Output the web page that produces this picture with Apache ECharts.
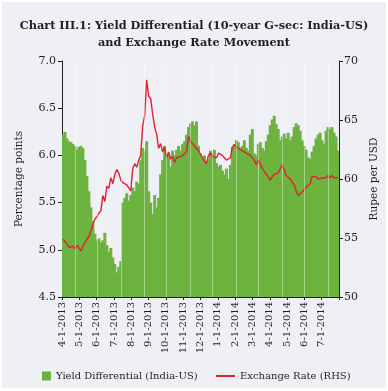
<!DOCTYPE html>
<html>
<head>
<meta charset="utf-8">
<script src="https://cdn.jsdelivr.net/npm/echarts@6/dist/echarts.min.js"></script>
<style>
html,body{margin:0;padding:0;background:#ffffff;}
#c{width:388px;height:391px;}
</style>
</head>
<body>
<div id="c"></div>
<script>
// Month tick labels (last slot is the axis end, unlabeled)
const monthLabels = ['4-1-2013','5-1-2013','6-1-2013','7-1-2013','8-1-2013','9-1-2013','10-1-2013','11-1-2013','12-1-2013','1-1-2014','2-1-2014','3-1-2014','4-1-2014','5-1-2014','6-1-2014','7-1-2014',''];

// Observation dates: Mondays and Thursdays from 1 Apr 2013 (139 points)
const categories = [];
(function(){
  const d = new Date(2013, 3, 1);
  while (categories.length < 139) {
    const wd = d.getDay();
    if (wd === 1 || wd === 4) categories.push((d.getMonth()+1) + '-' + d.getDate() + '-' + d.getFullYear());
    d.setDate(d.getDate() + 1);
  }
})();

// Yield differential, 10-year G-sec India minus US (percentage points)
const yieldDiff = [
6.22,6.25,6.18,6.15,6.14,6.12,6.10,6.06,6.09,6.10,
6.08,5.95,5.78,5.62,5.45,5.30,5.17,5.10,5.12,5.08,
5.10,5.18,5.05,4.98,5.02,4.92,4.85,4.76,4.82,4.88,
5.50,5.55,5.60,5.52,5.58,5.66,5.62,5.72,5.70,5.95,
6.08,6.05,6.15,5.62,5.50,5.38,5.58,5.45,5.55,5.80,
5.95,6.10,5.98,6.02,5.88,6.05,6.00,6.06,6.10,6.05,
6.12,6.15,6.22,6.30,6.34,6.36,6.32,6.36,6.10,6.02,
5.98,6.00,5.94,5.96,6.05,6.02,6.06,5.92,5.88,5.90,
5.84,5.80,5.86,5.75,5.90,6.09,6.12,6.16,6.14,6.08,
6.10,6.16,6.08,6.05,6.22,6.28,6.02,6.00,6.12,6.14,
6.08,6.05,6.15,6.22,6.32,6.38,6.42,6.33,6.28,6.16,
6.20,6.23,6.18,6.24,6.16,6.20,6.30,6.34,6.32,6.26,
6.16,6.10,6.06,5.98,5.96,6.04,6.10,6.18,6.22,6.24,
6.16,6.12,6.26,6.30,6.28,6.30,6.24,6.20,6.05
];

// Exchange rate, rupees per US dollar (RHS)
const exchangeRate = [
54.9,54.8,54.5,54.2,54.2,54.3,54.1,54.4,54.3,53.9,
54.3,54.6,54.9,55.1,55.6,56.2,56.6,56.8,57.1,57.3,
58.6,58.1,59.4,59.2,60.1,59.6,60.4,60.8,60.5,59.9,
59.7,59.8,59.5,59.4,59.0,60.9,61.3,61.0,61.6,62.0,
64.5,65.4,68.4,67.0,66.8,65.5,64.4,63.8,62.6,63.0,
62.3,62.7,61.8,62.3,61.7,61.9,61.4,61.8,61.7,61.9,
61.8,62.1,62.4,63.6,63.2,63.0,62.8,62.7,62.4,62.1,
61.8,61.5,61.3,62.0,62.2,61.9,62.0,61.8,62.2,62.3,
62.0,61.8,61.6,61.6,61.8,62.7,62.9,62.8,62.6,62.5,
62.4,62.3,62.2,62.1,62.0,61.9,61.6,61.2,61.6,61.3,
60.9,60.8,60.4,60.2,59.9,60.2,60.4,60.5,60.5,60.9,
61.2,60.8,60.3,60.2,60.0,59.9,59.5,59.0,58.6,58.5,
58.9,59.1,59.3,59.4,59.6,60.2,60.3,60.2,60.0,59.9,
60.1,60.2,60.1,60.3,60.1,60.3,60.1,60.0,60.1
];

// Thin light streaks visible across the bars
const streakIdx = [6,17,29,41,52,64,75,87,98,110,121,133];

const SERIF = "'DejaVu Serif', 'Liberation Serif', serif";
const GREEN = '#6db33f', RED = '#e3212d', INK = '#231f20';
const chart = echarts.init(document.getElementById('c'), null, {renderer:'canvas'});
chart.setOption({
  backgroundColor: '#ffffff',
  animation: false,
  graphic: [{
    type: 'rect', z: -100, silent: true,
    shape: {x: 2, y: 2, width: 384, height: 386},
    style: {fill: '#efeff6'}
  }],
  title: {
    text: 'Chart III.1: Yield Differential (10-year G-sec: India-US)\nand Exchange Rate Movement',
    left: 'center', top: 13,
    textStyle: {fontFamily: SERIF, fontWeight: 'bold', fontSize: 11.3, lineHeight: 17, color: INK, align: 'center'}
  },
  legend: [{
    data: [{name: 'Yield Differential (India-US)', icon: 'rect'}],
    left: 37, top: 366, itemWidth: 9, itemHeight: 9, itemGap: 6,
    textStyle: {fontFamily: SERIF, fontSize: 10, color: INK}
  },{
    data: [{name: 'Exchange Rate (RHS)', icon: 'rect'}],
    left: 211, top: 366, itemWidth: 19, itemHeight: 2, itemGap: 4,
    textStyle: {fontFamily: SERIF, fontSize: 10, color: INK}
  }],
  grid: {left: 62, right: 48, top: 61, bottom: 94},
  xAxis: [{
    type: 'category', data: categories, boundaryGap: true, show: false
  },{
    type: 'category', data: monthLabels, boundaryGap: false, position: 'bottom',
    axisLine: {lineStyle: {color: INK, width: 1}},
    axisTick: {show: true, interval: 0, length: 3, lineStyle: {color: INK}},
    axisLabel: {interval: 0, rotate: 90, margin: 5, fontFamily: SERIF, fontSize: 10, color: INK},
    splitLine: {show: false}
  }],
  yAxis: [{
    type: 'value', min: 4.5, max: 7.0, interval: 0.5,
    name: 'Percentage points', nameLocation: 'middle', nameGap: 37, nameRotate: 90,
    nameTextStyle: {fontFamily: SERIF, fontSize: 10.5, color: INK},
    axisLine: {show: true, lineStyle: {color: INK}},
    axisTick: {show: true, length: 4, lineStyle: {color: INK}},
    axisLabel: {formatter: v => v.toFixed(1), margin: 6, fontFamily: SERIF, fontSize: 11, color: INK},
    splitLine: {show: false}
  },{
    type: 'value', min: 50, max: 70, interval: 5, position: 'right',
    name: 'Rupee per USD', nameLocation: 'middle', nameGap: 30, nameRotate: 90,
    nameTextStyle: {fontFamily: SERIF, fontSize: 10.5, color: INK},
    axisLine: {show: true, lineStyle: {color: INK}},
    axisTick: {show: true, length: 4, lineStyle: {color: INK}},
    axisLabel: {margin: 5, fontFamily: SERIF, fontSize: 11, color: INK},
    splitLine: {show: false}
  }],
  series: [{
    name: 'Yield Differential (India-US)', type: 'bar',
    xAxisIndex: 0, yAxisIndex: 0, data: yieldDiff,
    barWidth: 3, barGap: '0%', clip: true,
    itemStyle: {color: GREEN},
    markLine: {
      silent: true, symbol: 'none', label: {show: false},
      lineStyle: {color: '#ffffff', type: 'solid', width: 1, opacity: 0.4},
      data: streakIdx.map(i => ({xAxis: i}))
    }
  },{
    name: 'Exchange Rate (RHS)', type: 'line',
    xAxisIndex: 0, yAxisIndex: 1, data: exchangeRate,
    showSymbol: false, symbol: 'none',
    lineStyle: {color: RED, width: 1.4},
    itemStyle: {color: RED}
  }]
});
</script>
</body>
</html>
